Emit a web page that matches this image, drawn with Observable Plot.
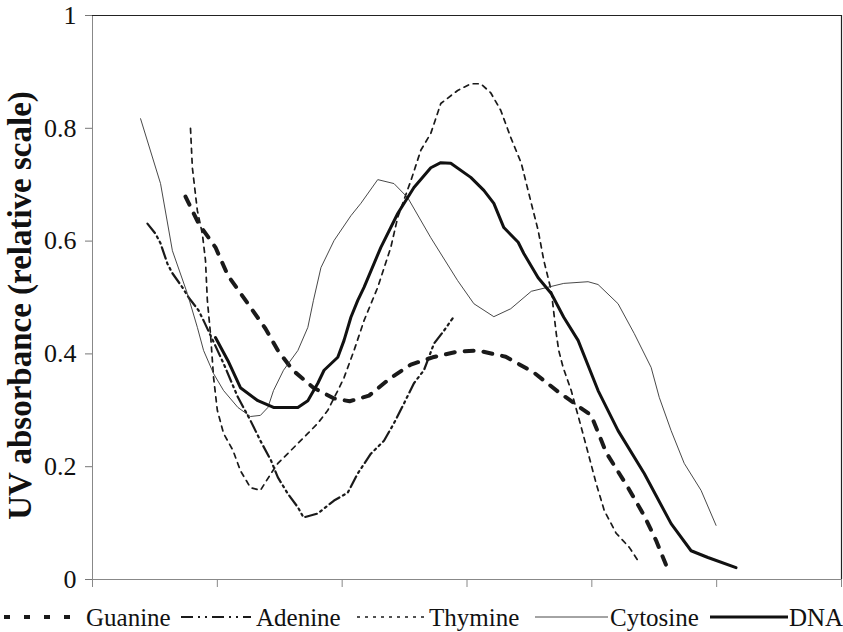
<!DOCTYPE html>
<html><head><meta charset="utf-8">
<script src="https://cdn.jsdelivr.net/npm/d3@7"></script>
<script src="https://cdn.jsdelivr.net/npm/@observablehq/plot@0.6"></script>
<style>
body{margin:0;background:#fff;}
#wrap{width:843px;height:632px;position:relative;font-family:"Liberation Serif","Times New Roman",serif;}
#legend{position:relative;width:843px;height:37px;}
.ls{position:absolute;top:0;}
.lt{position:absolute;top:4px;font-size:25px;line-height:37px;color:#111;white-space:nowrap;}
</style></head><body><div id="wrap"></div>
<script>
// Wavelength-like x positions (ticks unlabeled in the source), y = relative absorbance
const xTicks = [200, 220, 240, 260, 280, 300, 320];
const yTicks = [0, 0.2, 0.4, 0.6, 0.8, 1];
const yTitle = "UV absorbance (relative scale)";
const seriesNames = ["Guanine", "Adenine", "Thymine", "Cytosine", "DNA"];

const guanine = [[214.9,0.679],[217.0,0.631],[219.7,0.589],[221.7,0.539],[224.9,0.489],[227.7,0.445],[229.7,0.406],[232.1,0.371],[235.4,0.340],[238.7,0.321],[241.2,0.316],[244.3,0.326],[247.6,0.356],[251.0,0.381],[254.5,0.394],[258.5,0.404],[261.8,0.406],[266.2,0.395],[270.7,0.367],[274.7,0.332],[279.9,0.291],[282.3,0.225],[285.8,0.163],[288.4,0.113],[290.3,0.069],[292.1,0.020]];
const adenine = [[208.8,0.631],[210.1,0.613],[210.9,0.596],[212.0,0.560],[212.8,0.543],[214.4,0.518],[215.4,0.500],[217.0,0.477],[217.8,0.459],[218.9,0.433],[221.0,0.383],[223.3,0.323],[225.3,0.282],[226.9,0.246],[228.6,0.211],[229.7,0.181],[231.3,0.152],[232.9,0.128],[233.8,0.110],[236.1,0.117],[238.7,0.140],[240.9,0.154],[242.5,0.188],[244.6,0.223],[246.7,0.246],[248.3,0.277],[249.9,0.312],[251.5,0.348],[253.1,0.371],[254.7,0.418],[256.3,0.441],[257.7,0.463]];
const thymine = [[215.7,0.800],[216.0,0.730],[216.8,0.654],[217.6,0.613],[218.1,0.566],[218.4,0.495],[218.9,0.436],[219.4,0.358],[220.0,0.300],[221.0,0.259],[222.5,0.229],[223.7,0.193],[225.3,0.163],[226.9,0.158],[228.6,0.188],[229.7,0.206],[231.8,0.229],[234.5,0.259],[236.1,0.277],[237.7,0.300],[239.3,0.335],[240.3,0.358],[241.9,0.406],[243.5,0.459],[245.7,0.518],[247.8,0.589],[248.9,0.642],[251.0,0.707],[252.6,0.761],[254.2,0.791],[255.8,0.844],[258.5,0.867],[260.6,0.879],[262.2,0.879],[263.8,0.863],[265.4,0.832],[267.0,0.784],[268.7,0.738],[270.3,0.667],[271.4,0.619],[272.3,0.566],[273.5,0.512],[274.3,0.436],[274.7,0.406],[275.4,0.376],[276.7,0.335],[278.3,0.270],[279.6,0.216],[280.7,0.170],[282.0,0.122],[283.9,0.082],[286.0,0.057],[287.6,0.030]];
const cytosine = [[207.7,0.817],[210.9,0.702],[212.8,0.583],[215.2,0.507],[216.8,0.447],[217.8,0.406],[219.4,0.365],[221.0,0.335],[223.3,0.305],[225.3,0.289],[226.9,0.291],[228.1,0.305],[229.0,0.335],[230.6,0.371],[232.9,0.406],[234.5,0.447],[235.4,0.495],[236.6,0.553],[238.7,0.601],[241.4,0.645],[243.0,0.667],[245.7,0.709],[248.3,0.702],[250.5,0.677],[254.2,0.606],[258.5,0.530],[261.1,0.489],[264.3,0.466],[267.0,0.480],[270.3,0.511],[275.5,0.525],[279.4,0.528],[281.0,0.523],[284.2,0.489],[286.8,0.436],[289.5,0.376],[290.8,0.323],[292.7,0.264],[294.8,0.206],[297.5,0.158],[299.9,0.096]];
const dna = [[219.7,0.429],[221.7,0.388],[223.7,0.340],[226.5,0.317],[229.0,0.305],[232.9,0.305],[234.5,0.317],[236.1,0.348],[237.1,0.371],[239.3,0.394],[240.3,0.424],[241.4,0.465],[242.5,0.495],[243.5,0.518],[246.2,0.589],[248.9,0.649],[251.5,0.695],[254.2,0.730],[255.8,0.739],[257.4,0.738],[260.6,0.713],[262.7,0.690],[264.3,0.667],[265.9,0.624],[268.2,0.598],[269.1,0.578],[271.4,0.535],[273.5,0.507],[275.5,0.465],[277.8,0.424],[281.0,0.335],[284.2,0.264],[288.4,0.188],[292.7,0.099],[295.9,0.051],[298.6,0.039],[303.1,0.021]];

const seriesData = [guanine, adenine, thymine, cytosine, dna];
const lineStyles = {
  Guanine:  {stroke: "#1a1a1a", width: 4,   dash: "9,10",          legendDash: "6,14"},
  Adenine:  {stroke: "#1a1a1a", width: 2.2, dash: "12,4,2,4,2,4",  legendDash: "12,5,2,5,2,5"},
  Thymine:  {stroke: "#1a1a1a", width: 1.7, dash: "5,5",           legendDash: "3,5"},
  Cytosine: {stroke: "#333",    width: 0.9, dash: null,            legendDash: null},
  DNA:      {stroke: "#111",    width: 3,   dash: null,            legendDash: null}
};

const serif = '"Liberation Serif","Times New Roman",serif';

const lineMarks = seriesNames.map((name, i) => {
  const s = lineStyles[name];
  const rows = seriesData[i].map(([x, y]) => ({x, y}));
  const opts = {x: "x", y: "y", stroke: s.stroke, strokeWidth: s.width, strokeLinejoin: "round"};
  if (s.dash) opts.strokeDasharray = s.dash;
  return Plot.line(rows, opts);
});

const chart = Plot.plot({
  width: 843,
  height: 595,
  marginLeft: 92,
  marginRight: 2,
  marginTop: 15,
  marginBottom: 16,
  style: {fontFamily: serif, background: "white", color: "#111"},
  x: {domain: [200, 320]},
  y: {domain: [0, 1]},
  marks: [
    Plot.axisY({ticks: yTicks, tickSize: 7, tickPadding: 9, fontSize: 26, fontFamily: serif, label: null, stroke: "#777", fill: "#111", tickFormat: d => String(d)}),
    Plot.axisX({ticks: xTicks, tickSize: 8, tickFormat: () => "", label: null, stroke: "#888"}),
    Plot.ruleY([0], {stroke: "#888", strokeWidth: 1.2}),
    Plot.ruleX([200], {stroke: "#888", strokeWidth: 1}),
    Plot.ruleY([1], {stroke: "#222", strokeWidth: 1.2}),
    Plot.ruleX([320], {stroke: "#222", strokeWidth: 1.2}),
    ...lineMarks,
    Plot.text([yTitle], {frameAnchor: "left", textAnchor: "middle", dx: -72, dy: 8, rotate: -90, fontSize: 33, fontWeight: "bold", fontFamily: serif, fill: "#111", text: d => d})
  ]
});

const wrap = document.getElementById("wrap");
wrap.appendChild(chart);

// Legend below the SVG
const legendLayout = [
  {name: "Guanine",  sx: 4,   sw: 80, tx: 86},
  {name: "Adenine",  sx: 181, sw: 70, tx: 256},
  {name: "Thymine",  sx: 357, sw: 69, tx: 429},
  {name: "Cytosine", sx: 535, sw: 73, tx: 610},
  {name: "DNA",      sx: 710, sw: 78, tx: 789}
];
const legend = document.createElement("div");
legend.id = "legend";
legendLayout.forEach(item => {
  const s = lineStyles[item.name];
  const svg = d3.create("svg").attr("class", "ls").attr("width", item.sw).attr("height", 37)
    .style("left", item.sx + "px");
  const ln = svg.append("line").attr("x1", 0).attr("x2", item.sw).attr("y1", 22).attr("y2", 22)
    .attr("stroke", s.stroke).attr("stroke-width", s.width);
  if (s.legendDash) ln.attr("stroke-dasharray", s.legendDash);
  legend.appendChild(svg.node());
  const t = document.createElement("div");
  t.className = "lt";
  t.style.left = item.tx + "px";
  t.textContent = item.name;
  legend.appendChild(t);
});
wrap.appendChild(legend);
</script>
</body></html>
